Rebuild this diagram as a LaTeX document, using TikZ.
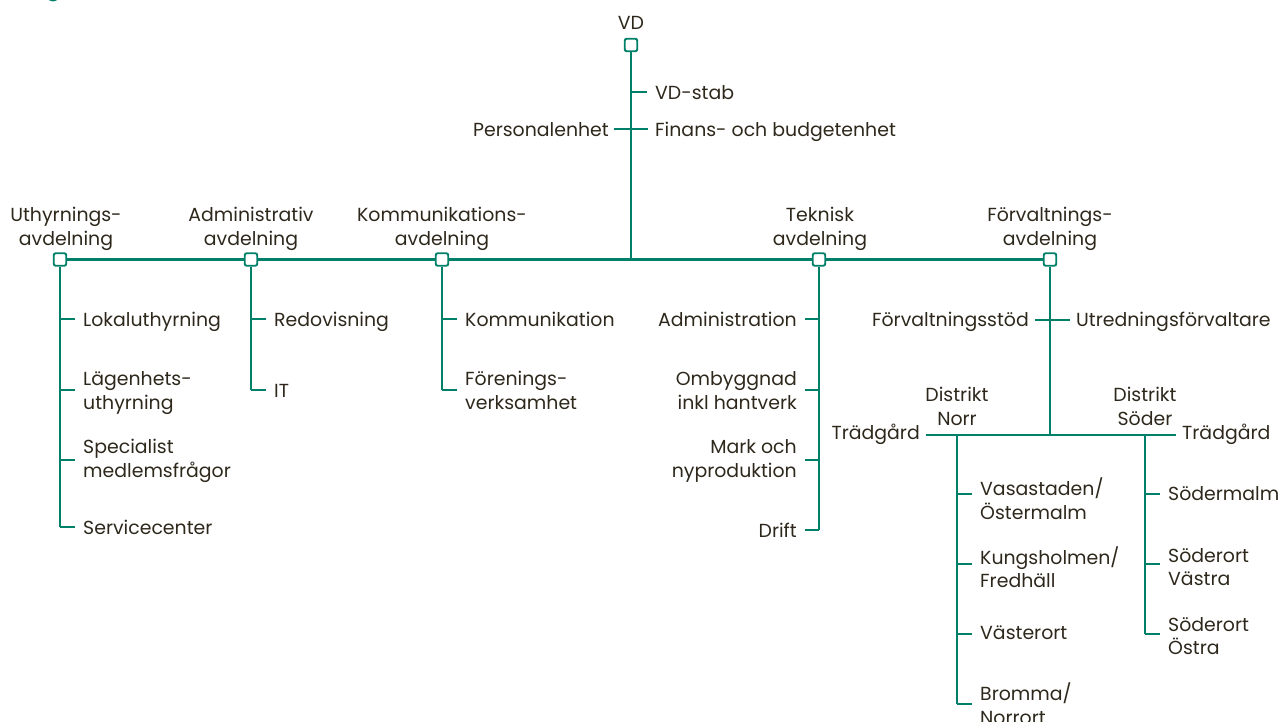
\documentclass[tikz,border=0pt]{standalone}
\usepackage{fontspec}
\setmainfont{Poppins}
\definecolor{grn}{RGB}{0,128,104}
\definecolor{ink}{RGB}{46,40,28}
\pgfdeclarelayer{bg}
\pgfsetlayers{bg,main}
\begin{document}
\begin{tikzpicture}[x=1pt,y=-1pt,
  ln/.style={draw=grn,line width=2.9pt},
  box/.style={draw=grn,fill=white,line width=1.9pt,rounded corners=2pt,minimum size=12.5pt,inner sep=0pt},
  lbl/.style={text=ink,font=\fontsize{18.9}{23.5}\selectfont,inner sep=0pt,align=center,
    execute at begin node=\strut, execute at end node=\strut},
  lbll/.style={lbl,align=left,anchor=west},
  lblr/.style={lbl,align=right,anchor=east},
  tk/.style={ln,shorten >=8pt}]
\useasboundingbox (0,0) rectangle (1278,722);
\fill[grn] (53,-2) ellipse (5 and 3.5);

% boxes
\node[box] (vd) at (631,45) {};
\node[box] (ua) at (60,259.5) {};
\node[box] (aa) at (251,259.5) {};
\node[box] (ka) at (442,259.5) {};
\node[box] (ta) at (819,259.5) {};
\node[box] (fa) at (1050,259.5) {};

% top labels
\node[lbl] (vdt) at (631,24.5) {VD};
\node[lbl] (ut) at (66,230) {Uthyrnings-\\avdelning};
\node[lbl] (at) at (251,230) {Administrativ\\avdelning};
\node[lbl] (kt) at (442,230) {Kommunikations-\\avdelning};
\node[lbl] (tt) at (820,230) {Teknisk\\avdelning};
\node[lbl] (ft) at (1050,230) {Förvaltnings-\\avdelning};

% junction coordinates
\coordinate (vdj) at (631,259.5);
\coordinate (s1) at (631,92);
\coordinate (s2) at (631,129);

% VD staff
\node[lbll] (stab) at (655,94.5) {VD-stab};
\node[lbll] (fin) at (655,131.5) {Finans- och budgetenhet};
\node[lblr] (pers) at (609,131.5) {Personalenhet};

% Uthyrning
\coordinate (u1) at (60,319); \coordinate (u2) at (60,390);
\coordinate (u3) at (60,460); \coordinate (u4) at (60,527);
\node[lbll] (lok) at (83,321.5) {Lokaluthyrning};
\node[lbll] (lag) at (83,394) {Lägenhets-\\uthyrning};
\node[lbll] (spe) at (83,462) {Specialist\\medlemsfrågor};
\node[lbll] (ser) at (83,529.5) {Servicecenter};

% Administrativ
\coordinate (a1) at (251,319); \coordinate (a2) at (251,390);
\node[lbll] (red) at (274,321.5) {Redovisning};
\node[lbll] (it) at (274,392.5) {IT};

% Kommunikation
\coordinate (k1) at (442,319); \coordinate (k2) at (442,390);
\node[lbll] (kom) at (465,321.5) {Kommunikation};
\node[lbll] (for) at (465,394) {Förenings-\\verksamhet};

% Teknisk
\coordinate (t1) at (819,319); \coordinate (t2) at (819,390);
\coordinate (t3) at (819,460); \coordinate (t4) at (819,530);
\node[lblr] (adm) at (797,321.5) {Administration};
\node[lblr] (omb) at (797,394) {Ombyggnad\\inkl hantverk};
\node[lblr] (mar) at (797,462) {Mark och\\nyproduktion};
\node[lblr] (dri) at (797,532.5) {Drift};

% Förvaltning
\coordinate (f1) at (1050,320); \coordinate (f2) at (1050,435);
\node[lblr] (fst) at (1029,322) {Förvaltningsstöd};
\node[lbll] (utr) at (1076,322) {Utredningsförvaltare};
\node[lblr] (trn) at (920,434.5) {Trädgård};
\node[lbll] (trs) at (1182,434.5) {Trädgård};
\node[lbl] (dn) at (957,410) {Distrikt\\Norr};
\node[lbl] (ds) at (1145,410) {Distrikt\\Söder};

% Norr
\coordinate (n0) at (957,435);
\coordinate (n1) at (957,494); \coordinate (n2) at (957,564);
\coordinate (n3) at (957,634); \coordinate (n4) at (957,704);
\node[lbll] (vas) at (980,502) {Vasastaden/\\Östermalm};
\node[lbll] (kun) at (980,570.5) {Kungsholmen/\\Fredhäll};
\node[lbll] (vao) at (980,634.5) {Västerort};
\node[lbll] (bro) at (980,707) {Bromma/\\Norrort};

% Söder
\coordinate (d0) at (1145,435);
\coordinate (d1) at (1145,494); \coordinate (d2) at (1145,564);
\coordinate (d3) at (1145,634);
\node[lbll] (sod) at (1168,496) {Södermalm};
\node[lbll] (sov) at (1168,570.5) {Söderort\\Västra};
\node[lbll] (soo) at (1168,639.5) {Söderort\\Östra};

\begin{pgfonlayer}{bg}
\draw[ln] (vd) -- (vdj);
\draw[tk] (s1) -- (s1 -| stab.west);
\draw[ln,shorten <=5pt,shorten >=7pt] (s2 -| pers.east) -- (s2 -| fin.west);
\draw[ln] (ua) -- (fa);
% verticals
\draw[ln] (ua) -- (u4);
\draw[ln] (aa) -- (a2);
\draw[ln] (ka) -- (k2);
\draw[ln] (ta) -- (t4);
\draw[ln] (fa) -- (f2);
\draw[ln] (n0) -- (n4);
\draw[ln] (d0) -- (d3);
% ticks
\foreach \c/\n in {u1/lok,u2/lag,u3/spe,u4/ser,a1/red,a2/it,k1/kom,k2/for,n1/vas,n2/kun,n3/vao,n4/bro,d1/sod,d2/sov,d3/soo}
  {\draw[tk] (\c) -- (\c -| \n.west);}
\foreach \c/\n in {t1/adm,t2/omb,t3/mar,t4/dri}
  {\draw[tk] (\c) -- (\c -| \n.east);}
\draw[ln,shorten <=6pt,shorten >=6pt] (f1 -| fst.east) -- (f1 -| utr.west);
\draw[ln,shorten <=6pt,shorten >=6pt] (f2 -| trn.east) -- (f2 -| trs.west);
\end{pgfonlayer}
\end{tikzpicture}
\end{document}
